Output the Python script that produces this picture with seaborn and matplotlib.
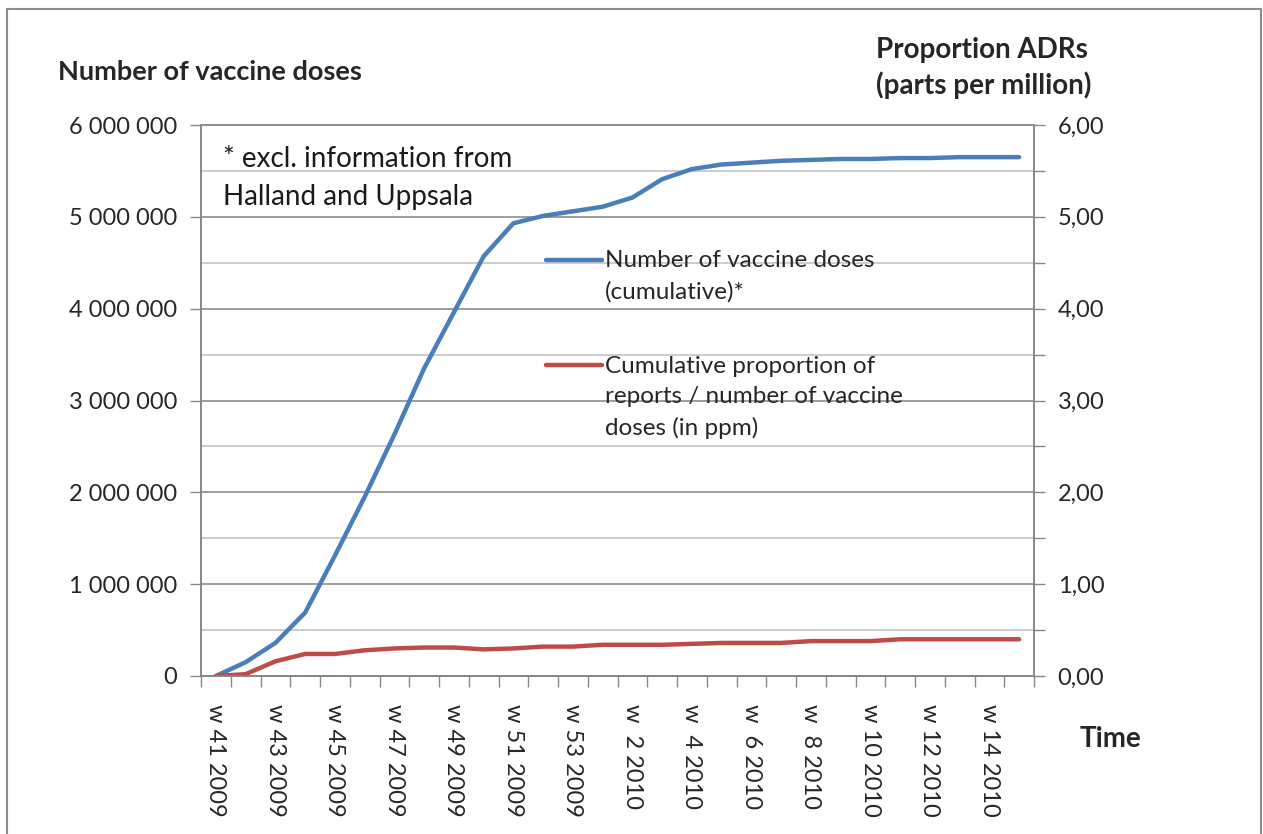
#Grafico de dosis de vacuna y proporcion de ADRs

import matplotlib.pyplot as plt
import matplotlib.patches as patches
import seaborn as sns
import numpy as np

semanas = ['w 41 2009', 'w 42 2009', 'w 43 2009', 'w 44 2009', 'w 45 2009', 'w 46 2009', 'w 47 2009',
           'w 48 2009', 'w 49 2009', 'w 50 2009', 'w 51 2009', 'w 52 2009', 'w 53 2009', 'w  1 2010',
           'w  2 2010', 'w  3 2010', 'w  4 2010', 'w  5 2010', 'w  6 2010', 'w  7 2010', 'w  8 2010',
           'w  9 2010', 'w 10 2010', 'w 11 2010', 'w 12 2010', 'w 13 2010', 'w 14 2010', 'w 15 2010']

dosis = [0, 150000, 360000, 690000, 1310000, 1950000, 2630000, 3350000, 3960000, 4570000,
         4930000, 5010000, 5060000, 5110000, 5210000, 5410000, 5520000, 5570000, 5590000, 5610000,
         5620000, 5630000, 5630000, 5640000, 5640000, 5650000, 5650000, 5650000]

ppm = [0.00, 0.02, 0.16, 0.24, 0.24, 0.28, 0.30, 0.31, 0.31, 0.29, 0.30, 0.32, 0.32, 0.34,
       0.34, 0.34, 0.35, 0.36, 0.36, 0.36, 0.38, 0.38, 0.38, 0.40, 0.40, 0.40, 0.40, 0.40]

ticks_izq = [0, 1000000, 2000000, 3000000, 4000000, 5000000, 6000000]
etiquetas_izq = ['0', '1 000 000', '2 000 000', '3 000 000', '4 000 000', '5 000 000', '6 000 000']
ticks_der = [0, 1, 2, 3, 4, 5, 6]
etiquetas_der = ['0,00', '1,00', '2,00', '3,00', '4,00', '5,00', '6,00']

AZUL = '#4A7EBB'
ROJO = '#BE4B48'
GRIS = '#878787'

sns.set_style('white')
plt.rcParams['font.family'] = ['Lato', 'DejaVu Sans']

W, H = 1263, 834
def fx(x): return x / W          #Pixel a fraccion de figura (x)
def fy(y): return 1 - y / H      #Pixel a fraccion de figura (y)

fig = plt.figure(figsize=(W / 100, H / 100), dpi=100)
ax = fig.add_axes([fx(201), fy(676), (1034 - 201) / W, (676 - 125) / H])

pos = np.arange(len(semanas))
sns.lineplot(x=pos, y=dosis, ax=ax, color=AZUL, linewidth=3.2, label='Number of vaccine doses\n(cumulative)*', legend=False)
ax2 = ax.twinx()
sns.lineplot(x=pos, y=ppm, ax=ax2, color=ROJO, linewidth=3.2,
             label='Cumulative proportion of\nreports / number of vaccine\ndoses (in ppm)', legend=False)

#Ejes
ax.set_xlim(-0.5, len(semanas) - 0.5)
ax.set_ylim(0, 6000000)
ax2.set_ylim(0, 6)
ax.set_xticks(pos[::2], [semanas[i] for i in pos[::2]], rotation=-90, fontsize=17, va='top')
ax.set_xticks(np.arange(-0.5, len(semanas)), minor=True)
ax.tick_params(axis='x', which='major', length=0, pad=20)
ax.tick_params(axis='x', which='minor', length=8, width=1, color=GRIS, direction='out', bottom=True)
ax.set_yticks(ticks_izq, etiquetas_izq, fontsize=17)
ax.set_yticks(np.arange(500000, 6000000, 1000000), minor=True)
ax.tick_params(axis='y', which='major', length=8, width=1, color=GRIS, direction='out', left=True, pad=9)
ax.tick_params(axis='y', which='minor', length=0)
ax2.set_yticks(ticks_der, etiquetas_der, fontsize=17)
ax2.set_yticks(np.arange(0.5, 6, 1), minor=True)
ax2.tick_params(axis='y', which='both', length=8, width=1, color=GRIS, direction='out', right=True, pad=9)
ax.set_xlabel('')
ax.set_ylabel('')
ax2.set_ylabel('')

#Grilla
ax.grid(axis='y', which='major', color='#8C8C8C', linewidth=1.2)
ax.grid(axis='y', which='minor', color='#C4C4C4', linewidth=1.2)
ax.grid(axis='x', visible=False)
for a in (ax, ax2):
    for s in a.spines.values():
        s.set_color(GRIS)
        s.set_linewidth(1.2)
    a.spines['top'].set_color('#8C8C8C')

#Leyenda
h1, l1 = ax.get_legend_handles_labels()
h2, l2 = ax2.get_legend_handles_labels()
leg = ax2.legend(h1 + h2, l1 + l2, loc='upper left', bbox_to_anchor=(fx(546), fy(250)), bbox_transform=fig.transFigure,
                 frameon=False, fontsize=17.5, handlelength=2.3, handletextpad=0.12, handleheight=1.0,
                 borderpad=0, borderaxespad=0, labelspacing=2.2)
for t in leg.get_texts():
    t.set_linespacing(1.55)
for columna in leg._legend_handle_box.get_children():
    for fila in columna.get_children():
        fila.align = 'top'     #La linea va junto a la primera fila del texto

#Textos
ax.text(fx(223), fy(146), '* excl. information from\nHalland and Uppsala', transform=fig.transFigure,
        fontsize=20, va='top', ha='left', linespacing=1.58, color='#1a1a1a')
fig.text(fx(58), fy(72), 'Number of vaccine doses', fontsize=19.5, fontweight='bold', va='center')
fig.text(fx(876), fy(50), 'Proportion ADRs', fontsize=20, fontweight='bold', va='center')
fig.text(fx(876), fy(85), '(parts per million)', fontsize=20, fontweight='bold', va='center')
fig.text(fx(1080), fy(739), 'Time', fontsize=20, fontweight='bold', va='center')

#Marco exterior
fig.patches.append(patches.Rectangle((fx(7), -0.05), fx(1261) - fx(7), fy(9) + 0.05, transform=fig.transFigure,
                                     fill=False, edgecolor='#8C8C8C', linewidth=1.5))

fig.savefig('out.png', dpi=100)
